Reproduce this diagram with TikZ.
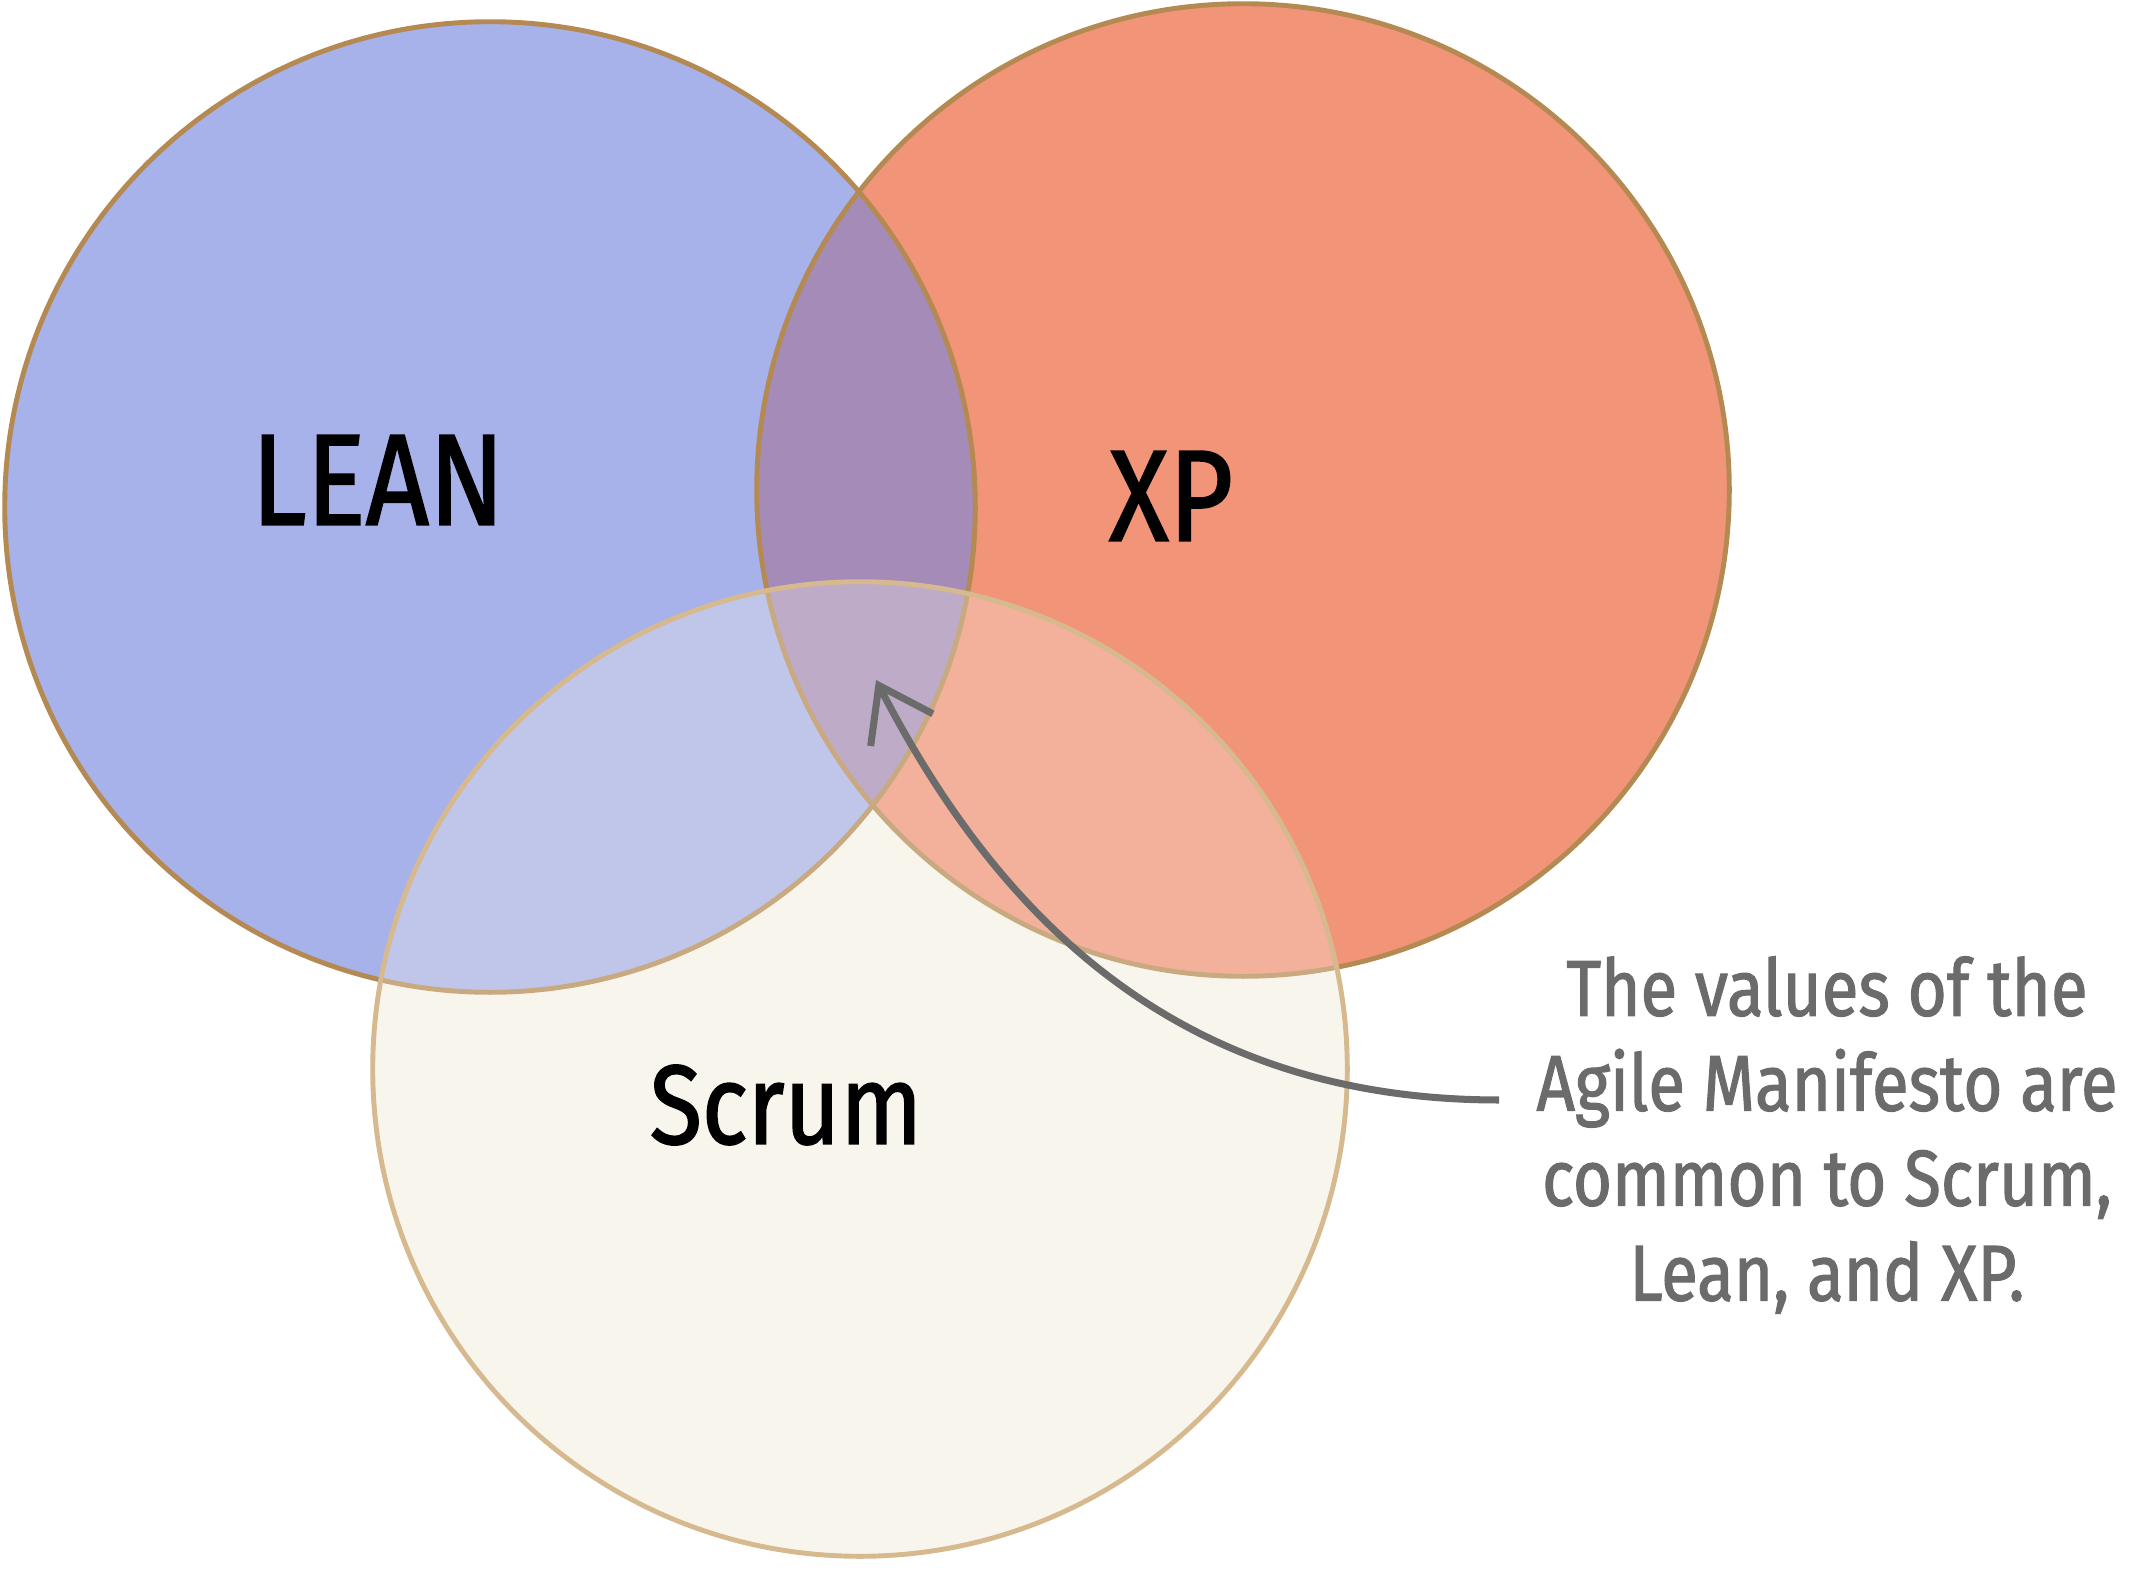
\documentclass[tikz,border=0pt]{standalone}
\usepackage{fontspec}
\newfontfamily\handfont[FakeStretch=0.85,FakeBold=1.4]{Fira Sans}
\usetikzlibrary{arrows.meta}
\usepackage{xcolor}
\definecolor{leanBlue}{HTML}{A7B2EA}
\definecolor{xpSalmon}{HTML}{F29478}
\definecolor{scrumCream}{HTML}{F8F6EC}
\definecolor{mixPurple}{HTML}{A48BB8}
\definecolor{rimBrown}{HTML}{B58A52}
\definecolor{rimTan}{HTML}{D6B98E}
\definecolor{noteGrey}{HTML}{6B6B6B}

\begin{document}
\begin{tikzpicture}[x=0.01cm,y=-0.01cm,
  rim/.style={line width=1.4pt,rimBrown},
  setlabel/.style={text=black,font=\handfont\fontsize{37}{40}\selectfont},
  note/.style={align=center,text=noteGrey,font=\handfont\fontsize{22.5}{27}\selectfont},
  link/.style={-{Straight Barb[length=5mm,width=7mm]},line width=2pt,noteGrey}]

\useasboundingbox (0,0) rectangle (2130,1582);
\def\leancirc{(490,507) circle [radius=4.85cm]}
\def\xpcirc{(1243,490) circle [radius=4.86cm]}
\def\scrumcirc{(860,1069) circle [radius=4.87cm]}

\fill[scrumCream] \scrumcirc;
\fill[leanBlue] \leancirc;
\fill[xpSalmon] \xpcirc;
\begin{scope}
  \clip \leancirc;
  \fill[mixPurple] \xpcirc;
\end{scope}
\draw[rim] \leancirc;
\draw[rim] \xpcirc;
\fill[scrumCream,fill opacity=0.3] \scrumcirc;
\draw[rim,rimTan] \scrumcirc;

\node[setlabel] (lean) at (378,480) {LEAN};
\node[setlabel] (xp) at (1171,496) {XP};
\node[setlabel,font=\handfont\fontsize{32}{36}\selectfont] (scrum) at (786,1105) {Scrum};

\node[note] (values) at (1827,1135) {The values of the\\Agile Manifesto are\\common to Scrum,\\Lean, and XP.};
\coordinate (core) at (876,680);

\draw[link] ([xshift=-0.25cm,yshift=0.35cm]values.west) .. controls (1180,1100) and (1000,920) .. (core);
\end{tikzpicture}
\end{document}
